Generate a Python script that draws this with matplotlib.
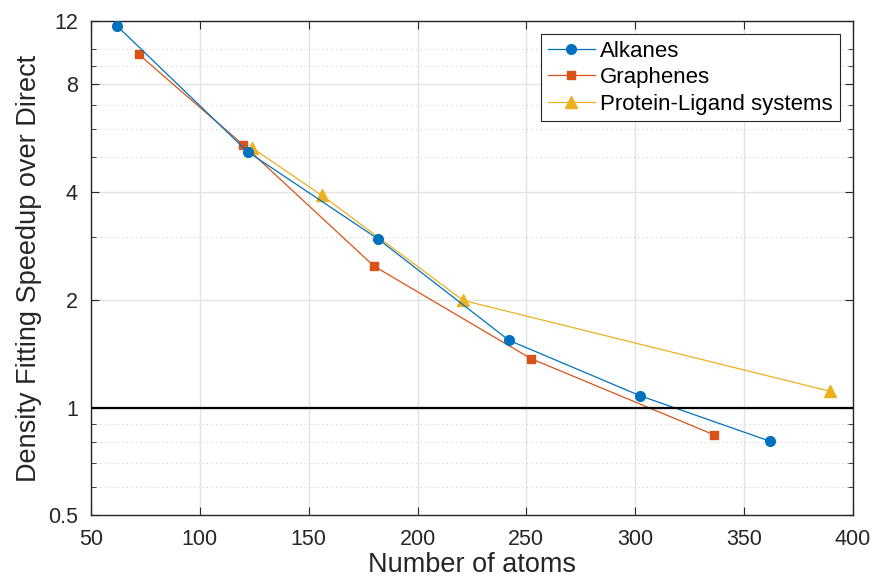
import numpy as np
import matplotlib
matplotlib.use("Agg")
import matplotlib.pyplot as plt
from matplotlib.ticker import FixedLocator, NullFormatter

plt.rcParams['font.family'] = ['Liberation Sans', 'DejaVu Sans']

# data
alk_x = [62, 122, 182, 242, 302, 362]
alk_y = [11.6, 5.17, 2.95, 1.54, 1.08, 0.805]
gra_x = [72, 120, 180, 252, 336]
gra_y = [9.66, 5.40, 2.48, 1.37, 0.84]
pro_x = [124, 156, 221, 389.5]
pro_y = [5.30, 3.91, 1.99, 1.11]

xticks = [50, 100, 150, 200, 250, 300, 350, 400]
yticks = [0.5, 1, 2, 4, 8, 12]
yminor = [0.6, 0.7, 0.8, 0.9, 3, 5, 6, 7, 9, 10]

c1 = '#0072BD'
c2 = '#D95319'
c3 = '#EDB120'

fig = plt.figure(figsize=(8.73, 5.82), dpi=100)
ax = fig.add_axes([0.1042, 0.1144, 0.8728, 0.85])

ax.set_yscale('log')
ax.plot(alk_x, alk_y, '-o', c=c1, lw=0.9, ms=7, label='Alkanes', zorder=4)
ax.plot(gra_x, gra_y, '-s', c=c2, lw=0.9, ms=5.5, label='Graphenes', zorder=3)
ax.plot(pro_x, pro_y, '-^', c=c3, lw=0.9, ms=8, label='Protein-Ligand systems', zorder=2)
ax.axhline(1, c='black', lw=1.6, zorder=5)

ax.set_xlim(50, 400)
ax.set_ylim(0.5, 12)
ax.set_xticks(xticks)
ax.set_xticklabels([str(v) for v in xticks])
ax.yaxis.set_major_locator(FixedLocator(yticks))
ax.set_yticklabels([str(v) for v in yticks])
ax.yaxis.set_minor_locator(FixedLocator(yminor))
ax.yaxis.set_minor_formatter(NullFormatter())

ax.grid(True, which='major', color='#e3e3e3', lw=1.0, ls='-', zorder=0)
ax.grid(True, which='minor', axis='y', color='#cfcfcf', lw=0.8, ls=(0, (1, 3)), zorder=0)
ax.set_axisbelow(True)

ax.tick_params(which='both', direction='in', top=True, right=True, colors='#262626',
               labelsize=15.5)
ax.tick_params(axis='x', which='major', length=6, pad=10)
ax.tick_params(axis='y', which='major', length=6, pad=9.5)
ax.tick_params(which='minor', length=3.5)
for s in ax.spines.values():
    s.set_color('#262626')
    s.set_linewidth(1.0)

ax.set_xlabel('Number of atoms', fontsize=19.5, color='#262626', labelpad=1)
ax.set_ylabel('Density Fitting Speedup over Direct', fontsize=19.5, color='#262626', labelpad=4)

leg = ax.legend(loc='upper right', fontsize=16, fancybox=False, framealpha=1,
                edgecolor='#262626', borderpad=0.3, labelspacing=0.25,
                handlelength=2.1, handletextpad=0.25, borderaxespad=0.6)
leg.get_frame().set_linewidth(0.8)

plt.savefig('out.png', dpi=100)
